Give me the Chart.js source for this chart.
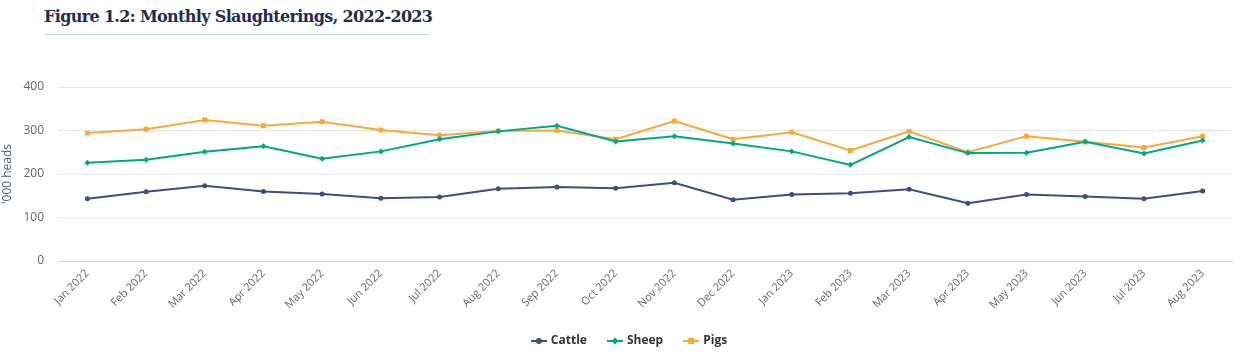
<!DOCTYPE html>
<html lang="en">
<head>
  <meta charset="UTF-8">
  <title>Figure 1.2: Monthly Slaughterings, 2022-2023</title>
  <script src="https://cdn.jsdelivr.net/npm/chart.js"></script>
  <style>
    body { margin: 0; background: #fff; width: 1242px; height: 359px; overflow: hidden; position: relative; }
    .fig-title { position: absolute; left: 44px; top: 7px; width: 386px; font-family: "DejaVu Serif", serif; font-weight: bold; font-size: 16px; letter-spacing: -0.65px; color: #1f2d50; padding-bottom: 8px; border-bottom: 1px solid #c8d7e8; white-space: nowrap; }
    #chart { position: absolute; left: 0; top: 0; }
  </style>
</head>
<body>
  <div class="fig-title">Figure 1.2: Monthly Slaughterings, 2022-2023</div>
  <canvas id="chart" width="1242" height="359"></canvas>

  <script>
    // Data
    const months = ['Jan 2022', 'Feb 2022', 'Mar 2022', 'Apr 2022', 'May 2022', 'Jun 2022', 'Jul 2022',
      'Aug 2022', 'Sep 2022', 'Oct 2022', 'Nov 2022', 'Dec 2022', 'Jan 2023', 'Feb 2023', 'Mar 2023',
      'Apr 2023', 'May 2023', 'Jun 2023', 'Jul 2023', 'Aug 2023'];
    const cattle = [143, 159, 173, 160, 154, 144, 147, 166, 170, 167, 180, 141, 153, 156, 165, 133, 153, 148, 143, 161];
    const sheep = [226, 233, 251, 264, 235, 252, 280, 298, 311, 275, 287, 270, 252, 221, 285, 248, 249, 274, 247, 277];
    const pigs = [294, 303, 324, 311, 320, 301, 289, 299, 300, 280, 322, 280, 296, 254, 298, 250, 287, 274, 261, 287];
    const yTicks = [0, 100, 200, 300, 400];

    const colors = { cattle: '#3d4f7d', sheep: '#00a886', pigs: '#f7a93b' };

    // legend symbol: short line with marker in the middle
    function legendIcon(color, shape) {
      const c = document.createElement('canvas');
      c.width = 16; c.height = 10;
      const g = c.getContext('2d');
      g.strokeStyle = color; g.fillStyle = color; g.lineWidth = 2;
      g.beginPath(); g.moveTo(0, 5); g.lineTo(16, 5); g.stroke();
      g.beginPath();
      if (shape === 'circle') g.arc(8, 5, 3, 0, Math.PI * 2);
      else if (shape === 'diamond') { g.moveTo(8, 1.5); g.lineTo(11.5, 5); g.lineTo(8, 8.5); g.lineTo(4.5, 5); g.closePath(); }
      else g.rect(5, 2, 6, 6);
      g.fill();
      return c;
    }

    function series(label, data, color, style, radius, shape) {
      return {
        label: label, data: data,
        borderColor: color, backgroundColor: color,
        borderWidth: 2, tension: 0,
        pointStyle: style, pointRadius: radius, pointHoverRadius: radius + 1,
        pointBorderWidth: 0,
        legendIcon: legendIcon(color, shape)
      };
    }

    // nudge the legend so it sits centred under the plot area, not the canvas
    const legendShift = {
      id: 'legendShift',
      afterLayout(chart) {
        const lg = chart.legend;
        if (!lg) return;
        lg.left += 14; lg.right += 14;
        (lg.legendHitBoxes || []).forEach(b => { b.left += 14; });
      }
    };

    const tickFont = { family: '"Open Sans", sans-serif', size: 11 };

    new Chart(document.getElementById('chart'), {
      type: 'line',
      data: {
        labels: months,
        datasets: [
          series('Cattle', cattle, colors.cattle, 'circle', 2.5, 'circle'),
          series('Sheep', sheep, colors.sheep, 'rectRot', 3, 'diamond'),
          series('Pigs', pigs, colors.pigs, 'rect', 3.5, 'square')
        ]
      },
      options: {
        responsive: false,
        animation: false,
        layout: { padding: { top: 87, left: 0, right: 10, bottom: 2 } },
        scales: {
          x: {
            offset: true,
            grid: { display: false, drawTicks: false },
            border: { color: '#ccd6eb' },
            ticks: { color: '#666', font: tickFont, maxRotation: 45, minRotation: 45, autoSkip: false, padding: 6 },
            afterFit: (s) => { s.height = 52; }
          },
          y: {
            min: 0, max: 400,
            afterBuildTicks: (s) => { s.ticks = yTicks.map(v => ({ value: v })); },
            grid: { color: '#e6e6e6', drawTicks: false },
            border: { display: false },
            ticks: { color: '#666', font: { family: '"Open Sans", sans-serif', size: 12 }, padding: 14 },
            title: { display: true, text: "'000 heads", color: '#4d5d7e', font: { family: '"Open Sans", sans-serif', size: 12 }, padding: 0 },
            afterFit: (s) => { s.width = 58; }
          }
        },
        plugins: {
          legend: {
            position: 'bottom',
            labels: {
              color: '#333',
              font: { family: '"Open Sans", sans-serif', size: 12, weight: 'bold' },
              usePointStyle: true,
              padding: 22,
              generateLabels: (chart) => chart.data.datasets.map((d, i) => ({
                text: d.label, pointStyle: d.legendIcon, fontColor: '#333',
                strokeStyle: d.borderColor, fillStyle: d.borderColor, datasetIndex: i, hidden: false
              }))
            }
          },
          tooltip: { enabled: true }
        }
      },
      plugins: [legendShift]
    });
  </script>
</body>
</html>
